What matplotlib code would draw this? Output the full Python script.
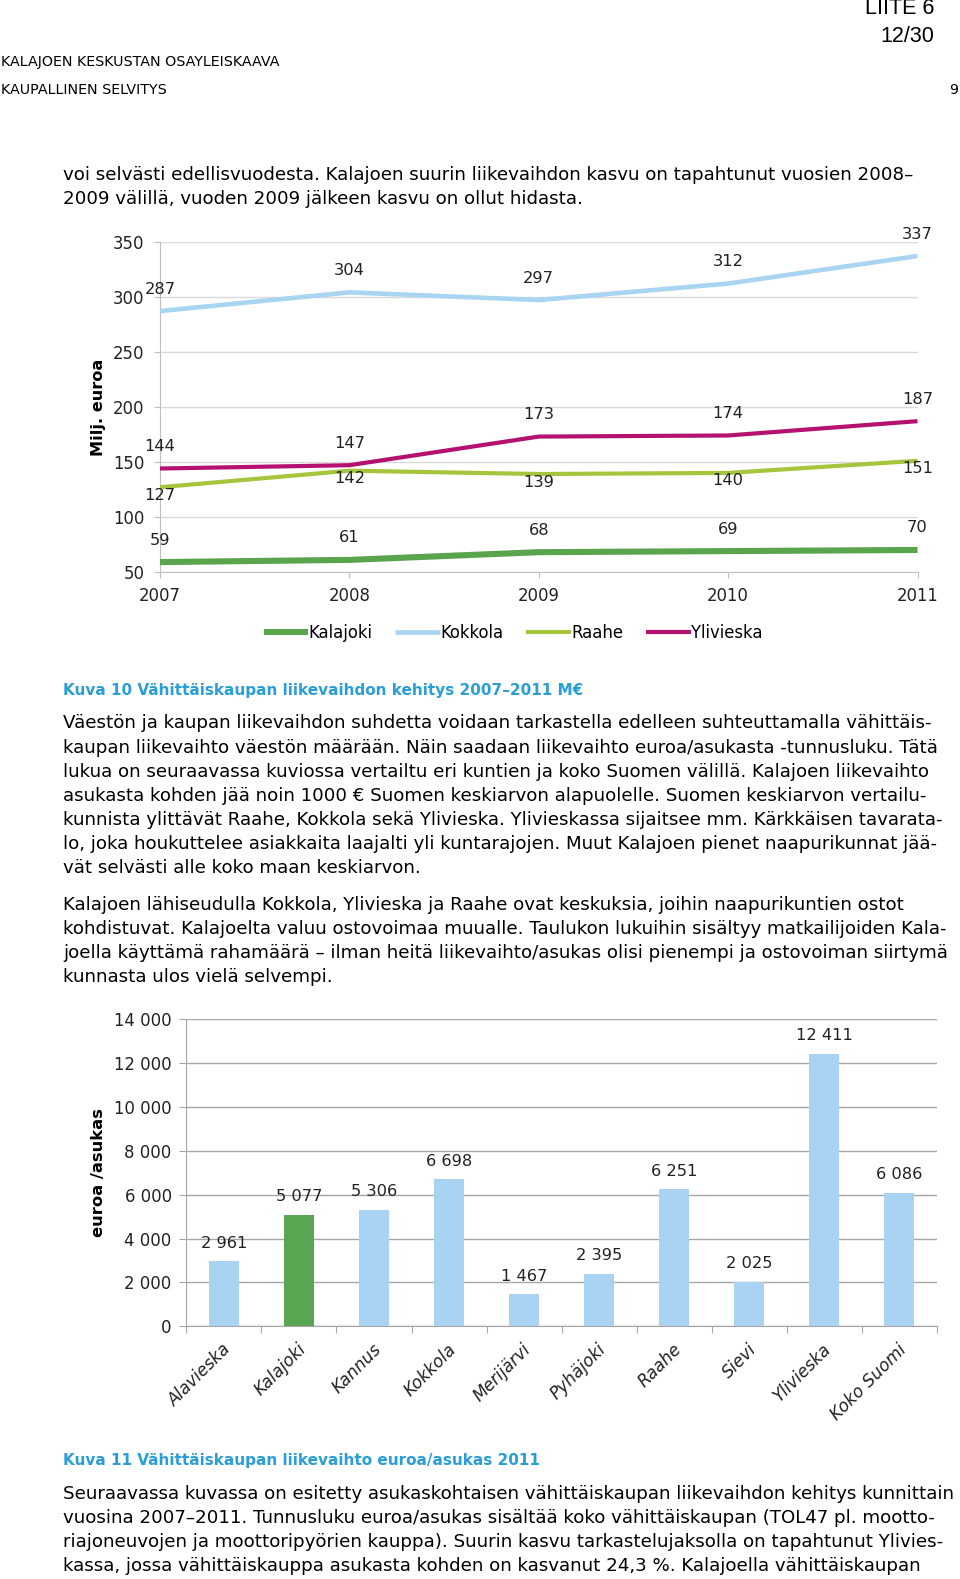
import matplotlib
matplotlib.use("Agg")
import matplotlib.pyplot as plt
import numpy as np

# --- data -------------------------------------------------------------
years = [2007, 2008, 2009, 2010, 2011]
kalajoki = [59, 61, 68, 69, 70]
kokkola = [287, 304, 297, 312, 337]
raahe = [127, 142, 139, 140, 151]
ylivieska = [144, 147, 173, 174, 187]

towns = ["Alavieska", "Kalajoki", "Kannus", "Kokkola", "Merijärvi",
         "Pyhäjoki", "Raahe", "Sievi", "Ylivieska", "Koko Suomi"]
per_capita = [2961, 5077, 5306, 6698, 1467, 2395, 6251, 2025, 12411, 6086]

top_text = ["voi selvästi edellisvuodesta. Kalajoen suurin liikevaihdon kasvu on tapahtunut vuosien 2008–",
            "2009 välillä, vuoden 2009 jälkeen kasvu on ollut hidasta."]
para1 = ["Väestön ja kaupan liikevaihdon suhdetta voidaan tarkastella edelleen suhteuttamalla vähittäis-",
         "kaupan liikevaihto väestön määrään. Näin saadaan liikevaihto euroa/asukasta -tunnusluku. Tätä",
         "lukua on seuraavassa kuviossa vertailtu eri kuntien ja koko Suomen välillä. Kalajoen liikevaihto",
         "asukasta kohden jää noin 1000 € Suomen keskiarvon alapuolelle. Suomen keskiarvon vertailu-",
         "kunnista ylittävät Raahe, Kokkola sekä Ylivieska. Ylivieskassa sijaitsee mm. Kärkkäisen tavarata-",
         "lo, joka houkuttelee asiakkaita laajalti yli kuntarajojen. Muut Kalajoen pienet naapurikunnat jää-",
         "vät selvästi alle koko maan keskiarvon."]
para2 = ["Kalajoen lähiseudulla Kokkola, Ylivieska ja Raahe ovat keskuksia, joihin naapurikuntien ostot",
         "kohdistuvat. Kalajoelta valuu ostovoimaa muualle. Taulukon lukuihin sisältyy matkailijoiden Kala-",
         "joella käyttämä rahamäärä – ilman heitä liikevaihto/asukas olisi pienempi ja ostovoiman siirtymä",
         "kunnasta ulos vielä selvempi."]
para3 = ["Seuraavassa kuvassa on esitetty asukaskohtaisen vähittäiskaupan liikevaihdon kehitys kunnittain",
         "vuosina 2007–2011. Tunnusluku euroa/asukas sisältää koko vähittäiskaupan (TOL47 pl. mootto-",
         "riajoneuvojen ja moottoripyörien kauppa). Suurin kasvu tarkastelujaksolla on tapahtunut Ylivies-",
         "kassa, jossa vähittäiskauppa asukasta kohden on kasvanut 24,3 %. Kalajoella vähittäiskaupan"]

W, H = 960, 1579
plt.rcParams['font.family'] = ['DejaVu Sans']
fig = plt.figure(figsize=(W / 100, H / 100), dpi=100)


def fx(x):
    return x / W


def fy(y):
    return 1 - y / H


body_fs = 13.15
chart_fs = 11.9
blue = '#2a9ed6'
ink = '#222222'

# header
fig.text(fx(934), fy(9), "LIITE 6", ha='right', va='center', fontsize=15.5, family='Liberation Sans')
fig.text(fx(934), fy(36), "12/30", ha='right', va='center', fontsize=15.5, family='Liberation Sans')
fig.text(fx(1), fy(62), "KALAJOEN KESKUSTAN OSAYLEISKAAVA", ha='left', va='center', fontsize=10.3)
fig.text(fx(1), fy(90), "KAUPALLINEN SELVITYS", ha='left', va='center', fontsize=10.3)
fig.text(fx(958), fy(90), "9", ha='right', va='center', fontsize=10.3)

for i, line in enumerate(top_text):
    fig.text(fx(63), fy(175 + 24.2 * i), line, ha='left', va='center', fontsize=body_fs)

# --- line chart -------------------------------------------------------
grid_c = '#d9d9d9'
axis_c = '#bfbfbf'
ax1 = fig.add_axes([fx(160), fy(572), fx(917.5) - fx(160), fy(241.7) - fy(572)])
series = [("Kalajoki", kalajoki, '#5aa44e', 4.4, 22),
          ("Kokkola", kokkola, '#a9d4f2', 3.3, 22),
          ("Raahe", raahe, '#a6c53d', 3.0, -8),
          ("Ylivieska", ylivieska, '#b5126f', 3.0, 22)]
for name, vals, col, lw, off in series:
    ax1.plot(years, vals, color=col, lw=lw, label=name, solid_capstyle='butt', zorder=3)
    for x, v in zip(years, vals):
        ax1.annotate(str(v), (x, v), xytext=(0, off), textcoords='offset pixels',
                     ha='center', va='center', fontsize=chart_fs - 0.2, color=ink, zorder=4)
ax1.set_xlim(2007, 2011)
ax1.set_ylim(50, 350)
ax1.set_yticks(range(50, 351, 50))
ax1.set_xticks(years)
ax1.grid(axis='y', color=grid_c, lw=1)
ax1.set_axisbelow(True)
for s in ['top', 'right']:
    ax1.spines[s].set_visible(False)
for s in ['left', 'bottom']:
    ax1.spines[s].set_color(axis_c)
ax1.tick_params(axis='both', colors=axis_c, labelcolor=ink, labelsize=chart_fs, length=4)
ax1.tick_params(axis='y', pad=7)
ax1.tick_params(axis='x', pad=7)
fig.text(fx(99), fy(407), "Milj. euroa", rotation=90, ha='center', va='center',
         fontsize=11.6, fontweight='bold')
fig.legend(*ax1.get_legend_handles_labels(), loc='center', bbox_to_anchor=(fx(513), fy(633)),
           ncol=4, frameon=False, fontsize=chart_fs, handlelength=2.7, handletextpad=0.0,
           columnspacing=1.4)

fig.text(fx(63), fy(690), "Kuva 10 Vähittäiskaupan liikevaihdon kehitys 2007–2011 M€",
         ha='left', va='center', fontsize=11, fontweight='bold', color=blue)
for i, line in enumerate(para1):
    fig.text(fx(63), fy(723.5 + 24.15 * i), line, ha='left', va='center', fontsize=body_fs)
for i, line in enumerate(para2):
    fig.text(fx(63), fy(904.8 + 24.15 * i), line, ha='left', va='center', fontsize=body_fs)

# --- bar chart --------------------------------------------------------
ax2 = fig.add_axes([fx(186.3), fy(1326.3), fx(937) - fx(186.3), fy(1019) - fy(1326.3)])
xpos = np.arange(len(towns))
colors = ['#5aa552' if t == "Kalajoki" else '#a9d3f3' for t in towns]
ax2.bar(xpos, per_capita, width=0.4, color=colors, zorder=3)
for x, v in zip(xpos, per_capita):
    ax2.annotate(f"{v:,}".replace(",", " "), (x, v), xytext=(0, 18), textcoords='offset pixels',
                 ha='center', va='center', fontsize=chart_fs - 0.2, color=ink)
ax2.set_xlim(-0.5, len(towns) - 0.5)
ax2.set_ylim(0, 14000)
ax2.set_yticks(range(0, 14001, 2000))
ax2.set_yticklabels([f"{v:,}".replace(",", " ") for v in range(0, 14001, 2000)])
ax2.grid(axis='y', color='#a6a6a6', lw=1)
ax2.set_axisbelow(True)
ax2.set_xticks(np.arange(-0.5, len(towns), 1.0))
ax2.set_xticklabels([])
for s in ['top', 'right']:
    ax2.spines[s].set_visible(False)
for s in ['left', 'bottom']:
    ax2.spines[s].set_color('#a6a6a6')
ax2.tick_params(axis='both', colors='#a6a6a6', labelcolor=ink, labelsize=chart_fs, length=5)
ax2.tick_params(axis='y', pad=5.5)
for x, t in zip(xpos, towns):
    ax2.annotate(t, (x, 0), xytext=(-2, -14), textcoords='offset pixels', rotation=45,
                 rotation_mode='anchor', ha='right', va='top', fontsize=chart_fs + 0.3,
                 style='italic', color=ink, annotation_clip=False)
fig.text(fx(99), fy(1173), "euroa /asukas", rotation=90, ha='center', va='center',
         fontsize=11.8, fontweight='bold')

fig.text(fx(63), fy(1460.5), "Kuva 11 Vähittäiskaupan liikevaihto euroa/asukas 2011",
         ha='left', va='center', fontsize=11, fontweight='bold', color=blue)
for i, line in enumerate(para3):
    fig.text(fx(63), fy(1493.9 + 24.15 * i), line, ha='left', va='center', fontsize=body_fs)

fig.savefig("out.png", dpi=100)
